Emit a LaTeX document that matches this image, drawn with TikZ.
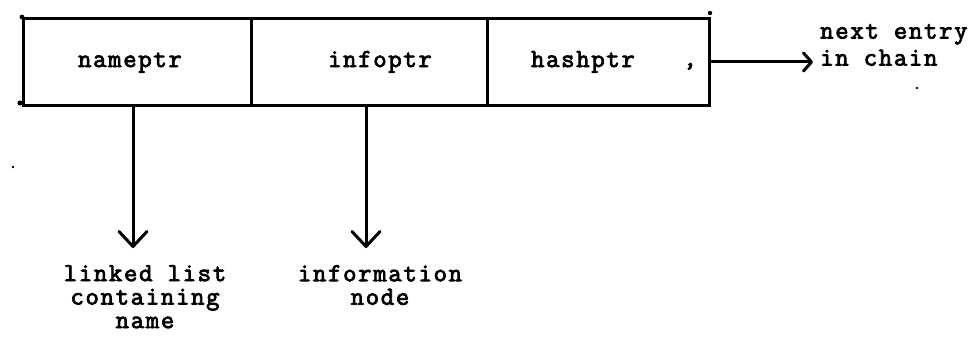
\documentclass[tikz,border=0pt]{standalone}
\usepackage{fontspec}
\newfontfamily\tw{Latin Modern Mono}[LetterSpace=6.5,FakeBold=3]
\usetikzlibrary{arrows.meta}

\begin{document}
\begin{tikzpicture}[x=1pt,y=-1pt,
    cell/.style={draw, line width=3pt, minimum height=87pt, inner sep=0pt, anchor=north west},
    txt/.style={font=\tw\fontsize{26}{23.5}\selectfont, inner sep=0pt},
    arr/.style={line width=3pt, -{Straight Barb[length=15pt, width=28pt, line width=3pt, round]}},
    arrR/.style={line width=3pt, -{Straight Barb[length=8pt, width=18pt, line width=3pt, round]}},
    speck/.style={fill=black}]
  \useasboundingbox (0,0) rectangle (979,345);

  % the three fields of a hash entry
  \node[cell, minimum width=228pt] (cellA) at (22,17) {};
  \node[cell, minimum width=236pt] (cellB) at (250,17) {};
  \node[cell, minimum width=222pt] (cellC) at (486,17) {};

  \node[txt, anchor=base] (lA) at (130,67) {nameptr};
  \node[txt, anchor=base] (lB) at (380,67) {infoptr};
  \node[txt, anchor=base] (lC) at (583,67) {hashptr};
  \node[txt, anchor=base] (cm) at (690,66) {,};

  % outgoing pointers
  \coordinate (tA) at (133,248);
  \coordinate (tB) at (366,248);
  \coordinate (tR) at (813,62);
  \draw[arr] (tA |- cellA.south) -- (tA);
  \draw[arr] (tB |- cellB.south) -- (tB);
  \draw[arrR] (cellC.east |- tR) -- (tR);

  % targets
  \node[txt, anchor=north, align=center] (ll) at (145,265) {linked list\\containing\\name};
  \node[txt, anchor=north, align=center] (inf) at (380,265) {information\\node};
  \node[txt, anchor=north west, align=left, font=\tw\fontsize{26}{27}\selectfont] (nx) at (820,24) {next entry\\in chain};

  % small marks
  \fill[speck] (22,17) circle (2.4pt);
  \fill[speck] (20,103) circle (2.6pt);
  \fill[speck] (710,13) circle (2.2pt);
  \fill[speck] (917,88) circle (1.4pt);
  \fill[speck] (13,167) circle (1.4pt);
\end{tikzpicture}
\end{document}
